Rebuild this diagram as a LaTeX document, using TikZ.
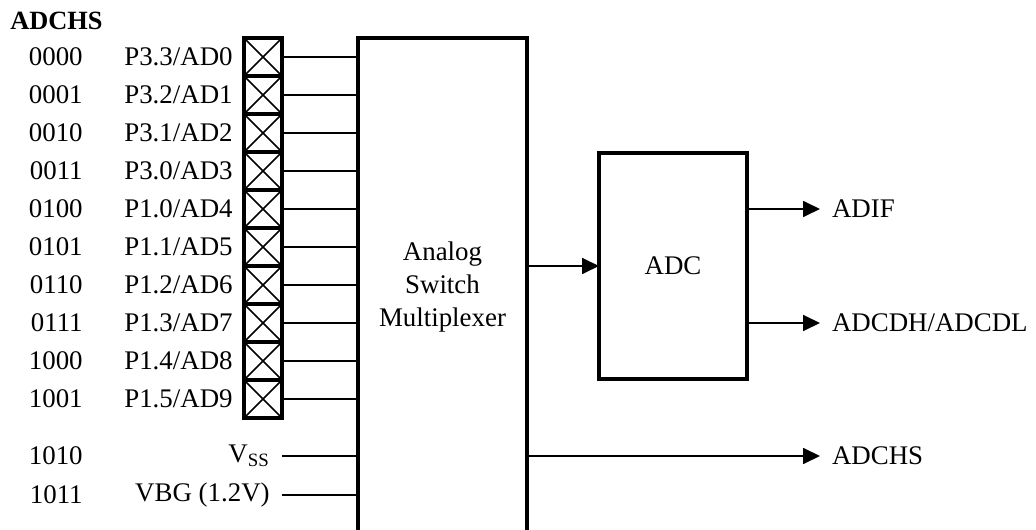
\documentclass[tikz,border=0pt]{standalone}
\usepackage{fontspec}
\setmainfont{Liberation Serif}
\usetikzlibrary{arrows.meta, positioning}

\tikzset{
    pinbox/.style = {draw, line width=2pt, minimum size=0.76cm, inner sep=0pt, outer sep=0pt,
        path picture={\draw [line width=0.9pt]
            (path picture bounding box.south west) -- (path picture bounding box.north east)
            (path picture bounding box.north west) -- (path picture bounding box.south east);}},
    block/.style = {draw, line width=1.9pt, inner sep=0pt, outer sep=0pt, align=center},
    txt/.style = {inner sep=0pt},
    outtxt/.style = {inner sep=0pt, outer sep=0.24cm, anchor=west},
    wire/.style = {line width=1pt},
    sig/.style = {wire, -{Triangle[length=0.34cm, width=0.32cm]}}
}

\begin{document}
\begin{tikzpicture} [node distance = 0pt, font=\fontsize{15.3}{18}\selectfont]
    \useasboundingbox (0,0) rectangle (20.72,-10.6);

    \node (title) [txt, anchor=west, font=\fontsize{15}{18}\selectfont\bfseries] at (0.2,-0.42) {ADCHS};

    % pin cells
    \node (b0) [pinbox] at (5.26,-1.14) {};
    \node (b1) [pinbox, below = of b0] {};
    \node (b2) [pinbox, below = of b1] {};
    \node (b3) [pinbox, below = of b2] {};
    \node (b4) [pinbox, below = of b3] {};
    \node (b5) [pinbox, below = of b4] {};
    \node (b6) [pinbox, below = of b5] {};
    \node (b7) [pinbox, below = of b6] {};
    \node (b8) [pinbox, below = of b7] {};
    \node (b9) [pinbox, below = of b8] {};
    \coordinate (vss) at (5.64,-9.12);
    \coordinate (vbg) at (5.64,-9.9);

    \node (p0) [txt, left = 0.22cm of b0] {P3.3/AD0};
    \node (p1) [txt, left = 0.22cm of b1] {P3.2/AD1};
    \node (p2) [txt, left = 0.22cm of b2] {P3.1/AD2};
    \node (p3) [txt, left = 0.22cm of b3] {P3.0/AD3};
    \node (p4) [txt, left = 0.22cm of b4] {P1.0/AD4};
    \node (p5) [txt, left = 0.22cm of b5] {P1.1/AD5};
    \node (p6) [txt, left = 0.22cm of b6] {P1.2/AD6};
    \node (p7) [txt, left = 0.22cm of b7] {P1.3/AD7};
    \node (p8) [txt, left = 0.22cm of b8] {P1.4/AD8};
    \node (p9) [txt, left = 0.22cm of b9] {P1.5/AD9};
    \node (pss) [txt, left = 0.24cm of vss] {V\textsubscript{SS}};
    \node (pbg) [txt, left = 0.24cm of vbg] {VBG (1.2V)};

    \node (c0) [txt, left = 3.22cm of b0] {0000};
    \node (c1) [txt, left = 3.22cm of b1] {0001};
    \node (c2) [txt, left = 3.22cm of b2] {0010};
    \node (c3) [txt, left = 3.22cm of b3] {0011};
    \node (c4) [txt, left = 3.22cm of b4] {0100};
    \node (c5) [txt, left = 3.22cm of b5] {0101};
    \node (c6) [txt, left = 3.22cm of b6] {0110};
    \node (c7) [txt, left = 3.22cm of b7] {0111};
    \node (c8) [txt, left = 3.22cm of b8] {1000};
    \node (c9) [txt, left = 3.22cm of b9] {1001};
    \node (css) [txt, left = 3.98cm of vss] {1010};
    \node (cbg) [txt, left = 3.98cm of vbg] {1011};

    % blocks
    \node (mux) [block, minimum width=3.38cm, minimum height=9.96cm,
        font=\fontsize{15.3}{19}\selectfont] at (8.85,-5.74) {Analog\\Switch\\Multiplexer};
    \node (adc) [block, minimum width=2.96cm, minimum height=4.52cm] at (13.46,-5.32) {ADC};

    \node (adif) [outtxt] at (16.4,-4.18) {ADIF};
    \node (adcd) [outtxt] at (16.4,-6.46) {ADCDH/ADCDL};
    \node (chs) [outtxt] at (16.4,-9.12) {ADCHS};

    % wires
    \draw [wire] (b0.east) -- (b0.east -| mux.west);
    \draw [wire] (b1.east) -- (b1.east -| mux.west);
    \draw [wire] (b2.east) -- (b2.east -| mux.west);
    \draw [wire] (b3.east) -- (b3.east -| mux.west);
    \draw [wire] (b4.east) -- (b4.east -| mux.west);
    \draw [wire] (b5.east) -- (b5.east -| mux.west);
    \draw [wire] (b6.east) -- (b6.east -| mux.west);
    \draw [wire] (b7.east) -- (b7.east -| mux.west);
    \draw [wire] (b8.east) -- (b8.east -| mux.west);
    \draw [wire] (b9.east) -- (b9.east -| mux.west);
    \draw [wire] (vss) -- (vss -| mux.west);
    \draw [wire] (vbg) -- (vbg -| mux.west);

    \draw [sig] (adc.west -| mux.east) -- (adc.west);
    \draw [sig] (adif.west -| adc.east) -- (adif.west);
    \draw [sig] (adcd.west -| adc.east) -- (adcd.west);
    \draw [sig] (chs.west -| mux.east) -- (chs.west);
\end{tikzpicture}
\end{document}
